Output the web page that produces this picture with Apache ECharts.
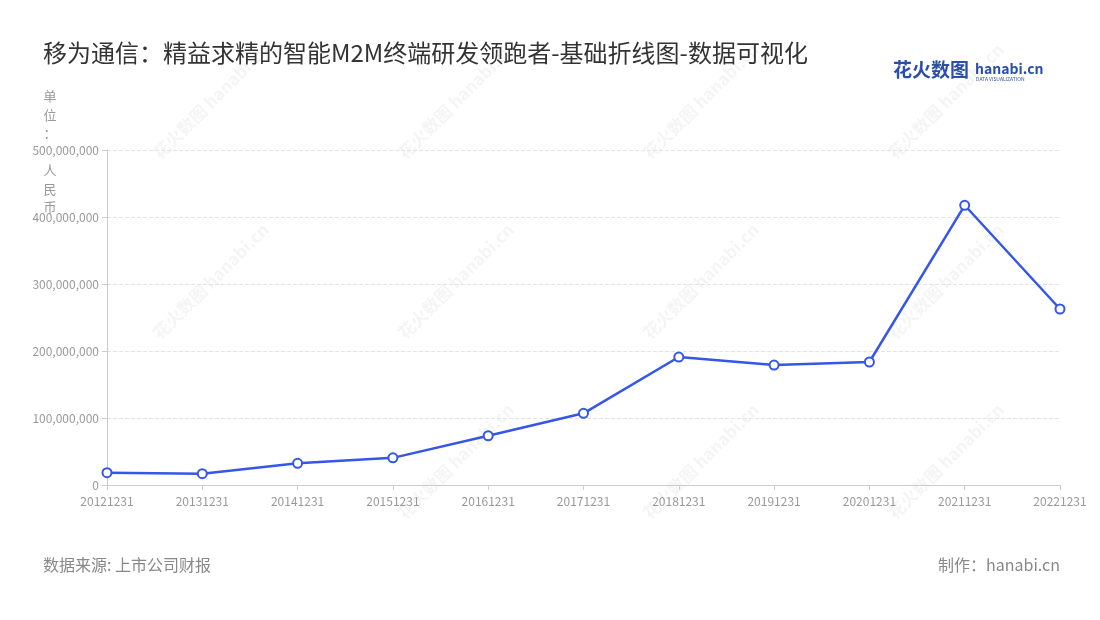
<!DOCTYPE html>
<html>
<head>
<meta charset="utf-8">
<script src="https://cdn.jsdelivr.net/npm/echarts@6/dist/echarts.min.js"></script>
<style>
  html, body { margin: 0; padding: 0; background: #fff; }
  #main { width: 1100px; height: 620px; }
</style>
</head>
<body>
<div id="main"></div>
<script>
var chartDom = document.getElementById("main");
var myChart = echarts.init(chartDom);

// 报告期
var dates = ["20121231", "20131231", "20141231", "20151231", "20161231", "20171231",
  "20181231", "20191231", "20201231", "20211231", "20221231"];
// 研发投入 (人民币)
var values = [18400000, 16900000, 32400000, 40500000, 73500000, 107000000,
  191000000, 179000000, 183600000, 417500000, 262700000];

var fontFamily = "'Noto Sans CJK SC', 'Noto Sans', sans-serif";

// faint watermarks
var marks = [];
[[150, 150], [395, 150], [640, 150], [885, 150],
 [150, 330], [395, 330], [640, 330], [885, 330],
 [395, 510], [640, 510], [885, 510]].forEach(function (p) {
  marks.push({
    type: "text",
    x: p[0], y: p[1],
    rotation: Math.PI / 4,
    silent: true,
    z: -1,
    style: {
      text: "花火数图 hanabi.cn",
      fill: "rgba(0,0,0,0.045)",
      font: "bold 17px " + fontFamily
    }
  });
});

var option = {
  backgroundColor: "#fff",
  title: {
    text: "移为通信：精益求精的智能M2M终端研发领跑者-基础折线图-数据可视化",
    left: 38,
    top: 36,
    textStyle: { fontSize: 24, fontWeight: "normal", color: "#333", fontFamily: fontFamily }
  },
  grid: { left: 107, right: 40, top: 150, bottom: 135 },
  xAxis: {
    type: "category",
    data: dates,
    boundaryGap: false,
    axisLine: { lineStyle: { color: "#ccc" } },
    axisTick: { show: true, alignWithLabel: true, lineStyle: { color: "#ccc" } },
    axisLabel: { color: "#999", fontSize: 12, margin: 10, interval: 0, fontFamily: fontFamily }
  },
  yAxis: {
    type: "value",
    min: 0,
    max: 500000000,
    interval: 100000000,
    axisLine: { show: true, lineStyle: { color: "#ccc" } },
    axisTick: { show: true, lineStyle: { color: "#ccc" } },
    axisLabel: {
      color: "#999", fontSize: 12, fontFamily: fontFamily,
      formatter: function (v) { return v.toLocaleString("en-US"); }
    },
    splitLine: { lineStyle: { type: "dashed", color: "#e3e3e3" } }
  },
  series: [
    {
      type: "line",
      data: values,
      symbol: "emptyCircle",
      symbolSize: 9,
      lineStyle: { color: "#3556e8", width: 2.5 },
      itemStyle: { color: "#3556e8", borderWidth: 2, borderColor: "#3556e8" }
    }
  ],
  graphic: marks.concat([
    {
      type: "text", x: 50, y: 87,
      style: {
        text: "单\n位\n：\n\n人\n民\n币",
        fill: "#999", font: "13px " + fontFamily,
        lineHeight: 18.5, align: "center"
      }
    },
    {
      type: "text", left: 893, top: 60,
      style: { text: "花火数图", fill: "#2b4fa8", font: "bold 19px " + fontFamily }
    },
    {
      type: "text", left: 975, top: 62,
      style: { text: "hanabi.cn", fill: "#2b4fa8", font: "bold 14px " + fontFamily }
    },
    {
      type: "text", left: 976, top: 77,
      style: { text: "DATA VISUALIZATION", fill: "#2b4fa8", font: "5px " + fontFamily }
    },
    {
      type: "text", left: 43, top: 557,
      style: { text: "数据来源: 上市公司财报", fill: "#888", font: "16px " + fontFamily }
    },
    {
      type: "text", right: 40, top: 557,
      style: { text: "制作：hanabi.cn", fill: "#888", font: "16px " + fontFamily }
    }
  ])
};

option && myChart.setOption(option);
</script>
</body>
</html>
